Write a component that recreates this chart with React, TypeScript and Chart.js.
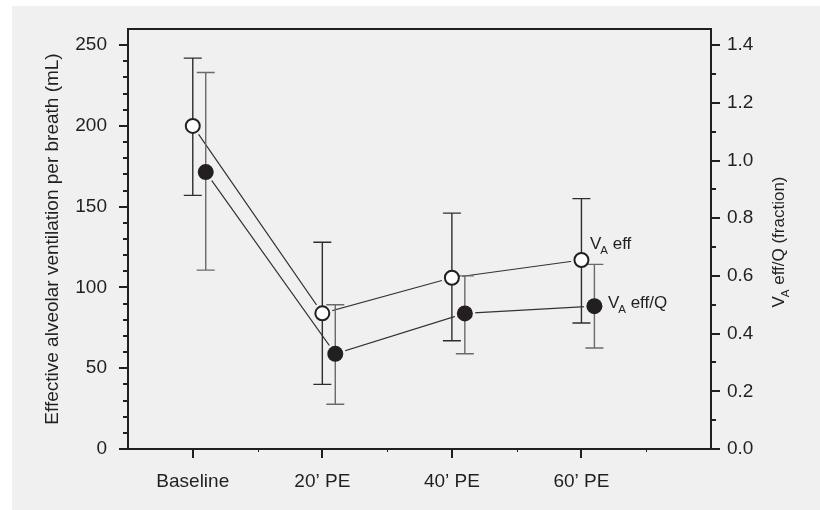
import React, { useEffect, useRef } from 'react';
import { Chart, registerables } from 'chart.js';

Chart.register(...registerables);

// ---------- data ----------
const categories = ['Baseline', '20\u2019 PE', '40\u2019 PE', '60\u2019 PE'];

// V_A eff (mL, left axis) – open circles
const vaEffMean = [200, 84, 106, 117];
const vaEffLow = [157, 40, 67, 78];
const vaEffHigh = [242, 128, 146, 155];

// V_A eff/Q (fraction, right axis) – filled circles
const vaEffQMean = [0.96, 0.33, 0.47, 0.495];
const vaEffQLow = [0.62, 0.155, 0.33, 0.35];
const vaEffQHigh = [1.305, 0.5, 0.6, 0.64];

const leftTicks = [0, 50, 100, 150, 200, 250];
const rightTicks = [0, 0.2, 0.4, 0.6, 0.8, 1.0, 1.2, 1.4];

// ---------- style ----------
const FAMILY = '"Liberation Sans", Arial, Helvetica, sans-serif';
const INK = '#231f20';
const BG = '#eff0ef';
const FILLED_OFFSET = 0.1; // horizontal shift of the filled series (x units)

const leftMinor: number[] = [];
for (let v = 10; v < 260; v += 10) if (v % 50 !== 0) leftMinor.push(v);
const rightMinor: number[] = [];
for (let k = 1; k < 15; k += 2) rightMinor.push(k / 10);
const xMinor = [0.5, 1.5, 2.5, 3.5];

function drawVA(ctx: CanvasRenderingContext2D, x: number, y: number, rest: string, size: number, sub: number) {
  ctx.font = `${size}px ${FAMILY}`;
  ctx.fillText('V', x, y);
  const wV = ctx.measureText('V').width;
  ctx.font = `${sub}px ${FAMILY}`;
  ctx.fillText('A', x + wV - 1, y + 5);
  const wA = ctx.measureText('A').width;
  ctx.font = `${size}px ${FAMILY}`;
  ctx.fillText(rest, x + wV - 1 + wA, y);
}

function measureVA(ctx: CanvasRenderingContext2D, rest: string, size: number, sub: number) {
  ctx.font = `${size}px ${FAMILY}`;
  const wV = ctx.measureText('V').width;
  const wR = ctx.measureText(rest).width;
  ctx.font = `${sub}px ${FAMILY}`;
  const wA = ctx.measureText('A').width;
  return wV - 1 + wA + wR;
}

const decorPlugin = {
  id: 'decor',
  beforeDatasetsDraw(chart: any) {
    const { ctx, chartArea: a, scales } = chart;
    const y = scales.y, y1 = scales.y1, x = scales.x;
    ctx.save();
    ctx.strokeStyle = INK;
    ctx.lineWidth = 2;
    ctx.strokeRect(a.left, a.top, a.right - a.left, a.bottom - a.top);
    ctx.beginPath();
    leftTicks.forEach((v) => {
      const p = Math.round(y.getPixelForValue(v));
      ctx.moveTo(a.left - 9, p);
      ctx.lineTo(a.left, p);
    });
    leftMinor.forEach((v) => {
      const p = Math.round(y.getPixelForValue(v));
      ctx.moveTo(a.left - 5, p);
      ctx.lineTo(a.left, p);
    });
    rightTicks.forEach((v) => {
      const p = Math.round(y1.getPixelForValue(v));
      ctx.moveTo(a.right, p);
      ctx.lineTo(a.right + 9, p);
    });
    rightMinor.forEach((v) => {
      const p = Math.round(y1.getPixelForValue(v));
      ctx.moveTo(a.right, p);
      ctx.lineTo(a.right + 5, p);
    });
    categories.forEach((_, i) => {
      const p = Math.round(x.getPixelForValue(i));
      ctx.moveTo(p, a.bottom);
      ctx.lineTo(p, a.bottom + 9);
    });
    ctx.stroke();
    ctx.beginPath();
    ctx.lineWidth = 1;
    xMinor.forEach((v) => {
      const p = Math.round(x.getPixelForValue(v)) + 0.5;
      ctx.moveTo(p, a.bottom);
      ctx.lineTo(p, a.bottom + 3);
    });
    ctx.stroke();
    ctx.restore();
  },
  afterDatasetsDraw(chart: any) {
    const { ctx, scales } = chart;
    const m0 = chart.getDatasetMeta(0).data;
    const m1 = chart.getDatasetMeta(1).data;
    ctx.save();
    // gaps around markers
    ctx.fillStyle = BG;
    [...m0, ...m1].forEach((pt: any) => {
      ctx.beginPath();
      ctx.arc(pt.x, pt.y, 10.5, 0, Math.PI * 2);
      ctx.fill();
    });
    // error bars
    const bars = (meta: any[], scale: any, lo: number[], hi: number[], color: string) => {
      ctx.strokeStyle = color;
      ctx.lineWidth = 1.4;
      ctx.beginPath();
      meta.forEach((pt: any, i: number) => {
        const yt = scale.getPixelForValue(hi[i]);
        const yb = scale.getPixelForValue(lo[i]);
        ctx.moveTo(pt.x, yt);
        ctx.lineTo(pt.x, yb);
        ctx.moveTo(pt.x - 9, yt);
        ctx.lineTo(pt.x + 9, yt);
        ctx.moveTo(pt.x - 9, yb);
        ctx.lineTo(pt.x + 9, yb);
      });
      ctx.stroke();
    };
    bars(m1, scales.y1, vaEffQLow, vaEffQHigh, '#6a6a6a');
    bars(m0, scales.y, vaEffLow, vaEffHigh, '#2e2e2e');
    // markers
    m0.forEach((pt: any) => {
      ctx.beginPath();
      ctx.arc(pt.x, pt.y, 7, 0, Math.PI * 2);
      ctx.fillStyle = '#ffffff';
      ctx.fill();
      ctx.lineWidth = 2;
      ctx.strokeStyle = INK;
      ctx.stroke();
    });
    m1.forEach((pt: any) => {
      ctx.beginPath();
      ctx.arc(pt.x, pt.y, 8, 0, Math.PI * 2);
      ctx.fillStyle = INK;
      ctx.fill();
    });
    // series labels
    ctx.fillStyle = INK;
    ctx.textBaseline = 'alphabetic';
    ctx.textAlign = 'left';
    const lastOpen = m0[m0.length - 1];
    const lastFilled = m1[m1.length - 1];
    drawVA(ctx, lastOpen.x + 8.5, lastOpen.y - 11, ' eff', 17, 11.5);
    drawVA(ctx, lastFilled.x + 13.5, lastFilled.y + 1.5, ' eff/Q', 17, 11.5);
    // right axis title
    const a = chart.chartArea;
    const rest = ' eff/Q (fraction)';
    const w = measureVA(ctx, rest, 17, 11.5);
    ctx.translate(784, (a.top + a.bottom) / 2 + 3);
    ctx.rotate(-Math.PI / 2);
    drawVA(ctx, -w / 2, 0, rest, 17, 11.5);
    ctx.restore();
  },
};

export default function App() {
  const ref = useRef<HTMLCanvasElement>(null);
  useEffect(() => {
    const tickFont = { family: FAMILY, size: 19 };
    const chart = new Chart(ref.current as HTMLCanvasElement, {
      type: 'scatter',
      data: {
        datasets: [
          {
            label: 'VA eff',
            data: vaEffMean.map((v, i) => ({ x: i, y: v })),
            yAxisID: 'y',
            showLine: true,
            borderColor: '#333333',
            borderWidth: 1.2,
            pointRadius: 0,
          },
          {
            label: 'VA eff/Q',
            data: vaEffQMean.map((v, i) => ({ x: i + FILLED_OFFSET, y: v })),
            yAxisID: 'y1',
            showLine: true,
            borderColor: '#333333',
            borderWidth: 1.2,
            pointRadius: 0,
          },
        ],
      },
      options: {
        animation: false,
        responsive: false,
        devicePixelRatio: 1,
        layout: { padding: { top: 29, left: 0, right: 0, bottom: 0 } },
        plugins: { legend: { display: false }, tooltip: { enabled: false } },
        scales: {
          x: {
            type: 'linear',
            position: 'bottom',
            min: -0.5,
            max: 4,
            afterBuildTicks: (s: any) => {
              s.ticks = categories.map((_, i) => ({ value: i }));
            },
            afterFit: (s: any) => {
              s.height = 61;
            },
            grid: { display: false, drawTicks: true, tickLength: 9 },
            border: { display: false },
            ticks: {
              font: tickFont,
              color: INK,
              padding: 12,
              maxRotation: 0,
              autoSkip: false,
              callback: (v: any) => categories[Math.round(Number(v))] ?? '',
            },
          },
          y: {
            position: 'left',
            min: 0,
            max: 260,
            afterBuildTicks: (s: any) => {
              s.ticks = leftTicks.map((v) => ({ value: v }));
            },
            afterFit: (s: any) => {
              s.width = 128;
            },
            grid: { display: false, drawTicks: true, tickLength: 9 },
            border: { display: false },
            ticks: { font: tickFont, color: INK, padding: 12 },
            title: {
              display: true,
              text: 'Effective alveolar ventilation per breath (mL)',
              font: { family: FAMILY, size: 19 },
              color: INK,
              padding: { top: 41, bottom: 0 },
            },
          },
          y1: {
            position: 'right',
            min: 0,
            max: 1.456,
            afterBuildTicks: (s: any) => {
              s.ticks = rightTicks.map((v) => ({ value: v }));
            },
            afterFit: (s: any) => {
              s.width = 109;
            },
            grid: { display: false, drawTicks: true, tickLength: 9 },
            border: { display: false },
            ticks: {
              font: tickFont,
              color: INK,
              padding: 7,
              callback: (v: any) => Number(v).toFixed(1),
            },
          },
        },
      },
      plugins: [decorPlugin],
    } as any);
    return () => chart.destroy();
  }, []);

  return (
    <div
      style={{
        position: 'absolute',
        left: 0,
        top: 0,
        width: 820,
        height: 510,
        background: '#ffffff',
        overflow: 'hidden',
      }}
    >
      <div style={{ position: 'absolute', left: 12, top: 6, right: 0, bottom: 0, background: BG }} />
      <canvas
        ref={ref}
        width={820}
        height={510}
        style={{ position: 'absolute', left: 0, top: 0, width: 820, height: 510 }}
      />
    </div>
  );
}
